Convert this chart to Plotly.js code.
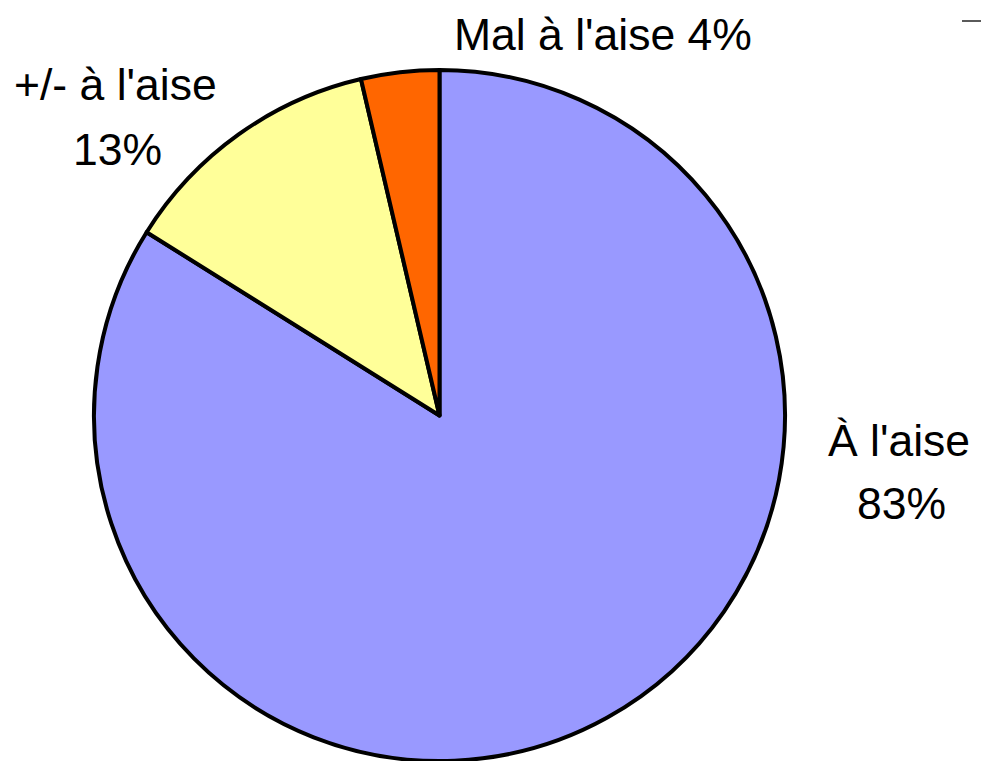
<!DOCTYPE html>
<html>
<head>
<meta charset="utf-8">
<script src="https://cdn.plot.ly/plotly-3.0.1.min.js"></script>
<style>html,body{margin:0;padding:0;background:#fff;}#chart{width:981px;height:761px;}</style>
</head>
<body>
<div id="chart"></div>
<script>
const labels = ["À l'aise", "+/- à l'aise", "Mal à l'aise"];
const sliceValues = [83.9, 12.45, 3.65];
const labelPercents = [83, 13, 4];
const colors = ["#9999FF", "#FFFF99", "#FF6600"];

const W = 981, H = 761;
const font = {family: "Liberation Sans, Arial, sans-serif", size: 44.5, color: "#000"};

const trace = {
  type: "pie",
  labels: labels,
  values: sliceValues,
  sort: false,
  direction: "clockwise",
  rotation: 0,
  textinfo: "none",
  hoverinfo: "label+percent",
  marker: {colors: colors, line: {color: "#000", width: 4}},
  domain: {x: [93 / W, 786 / W], y: [0, 691 / H]},
  showlegend: false
};

function pct(i) { return labelPercents[i] + "%"; }

const annotations = [
  {text: labels[2] + " " + pct(2), x: 603 / W, y: 1 - 35 / H},
  {text: labels[1], x: 115 / W, y: 1 - 85 / H},
  {text: pct(1), x: 117 / W, y: 1 - 150 / H},
  {text: labels[0], x: 899 / W, y: 1 - 440 / H},
  {text: pct(0), x: 901 / W, y: 1 - 503 / H}
].map(a => Object.assign({xref: "paper", yref: "paper", showarrow: false, xanchor: "center", yanchor: "middle", font: font}, a));

const layout = {
  width: W, height: H,
  margin: {l: 0, r: 0, t: 0, b: 0},
  paper_bgcolor: "#fff",
  plot_bgcolor: "#fff",
  annotations: annotations,
  shapes: [{type: "line", xref: "paper", yref: "paper", x0: 962 / W, x1: 1, y0: 1 - 21 / H, y1: 1 - 21 / H, line: {color: "#000", width: 1.3}}]
};

Plotly.newPlot("chart", [trace], layout, {displayModeBar: false, staticPlot: true});
</script>
</body>
</html>
